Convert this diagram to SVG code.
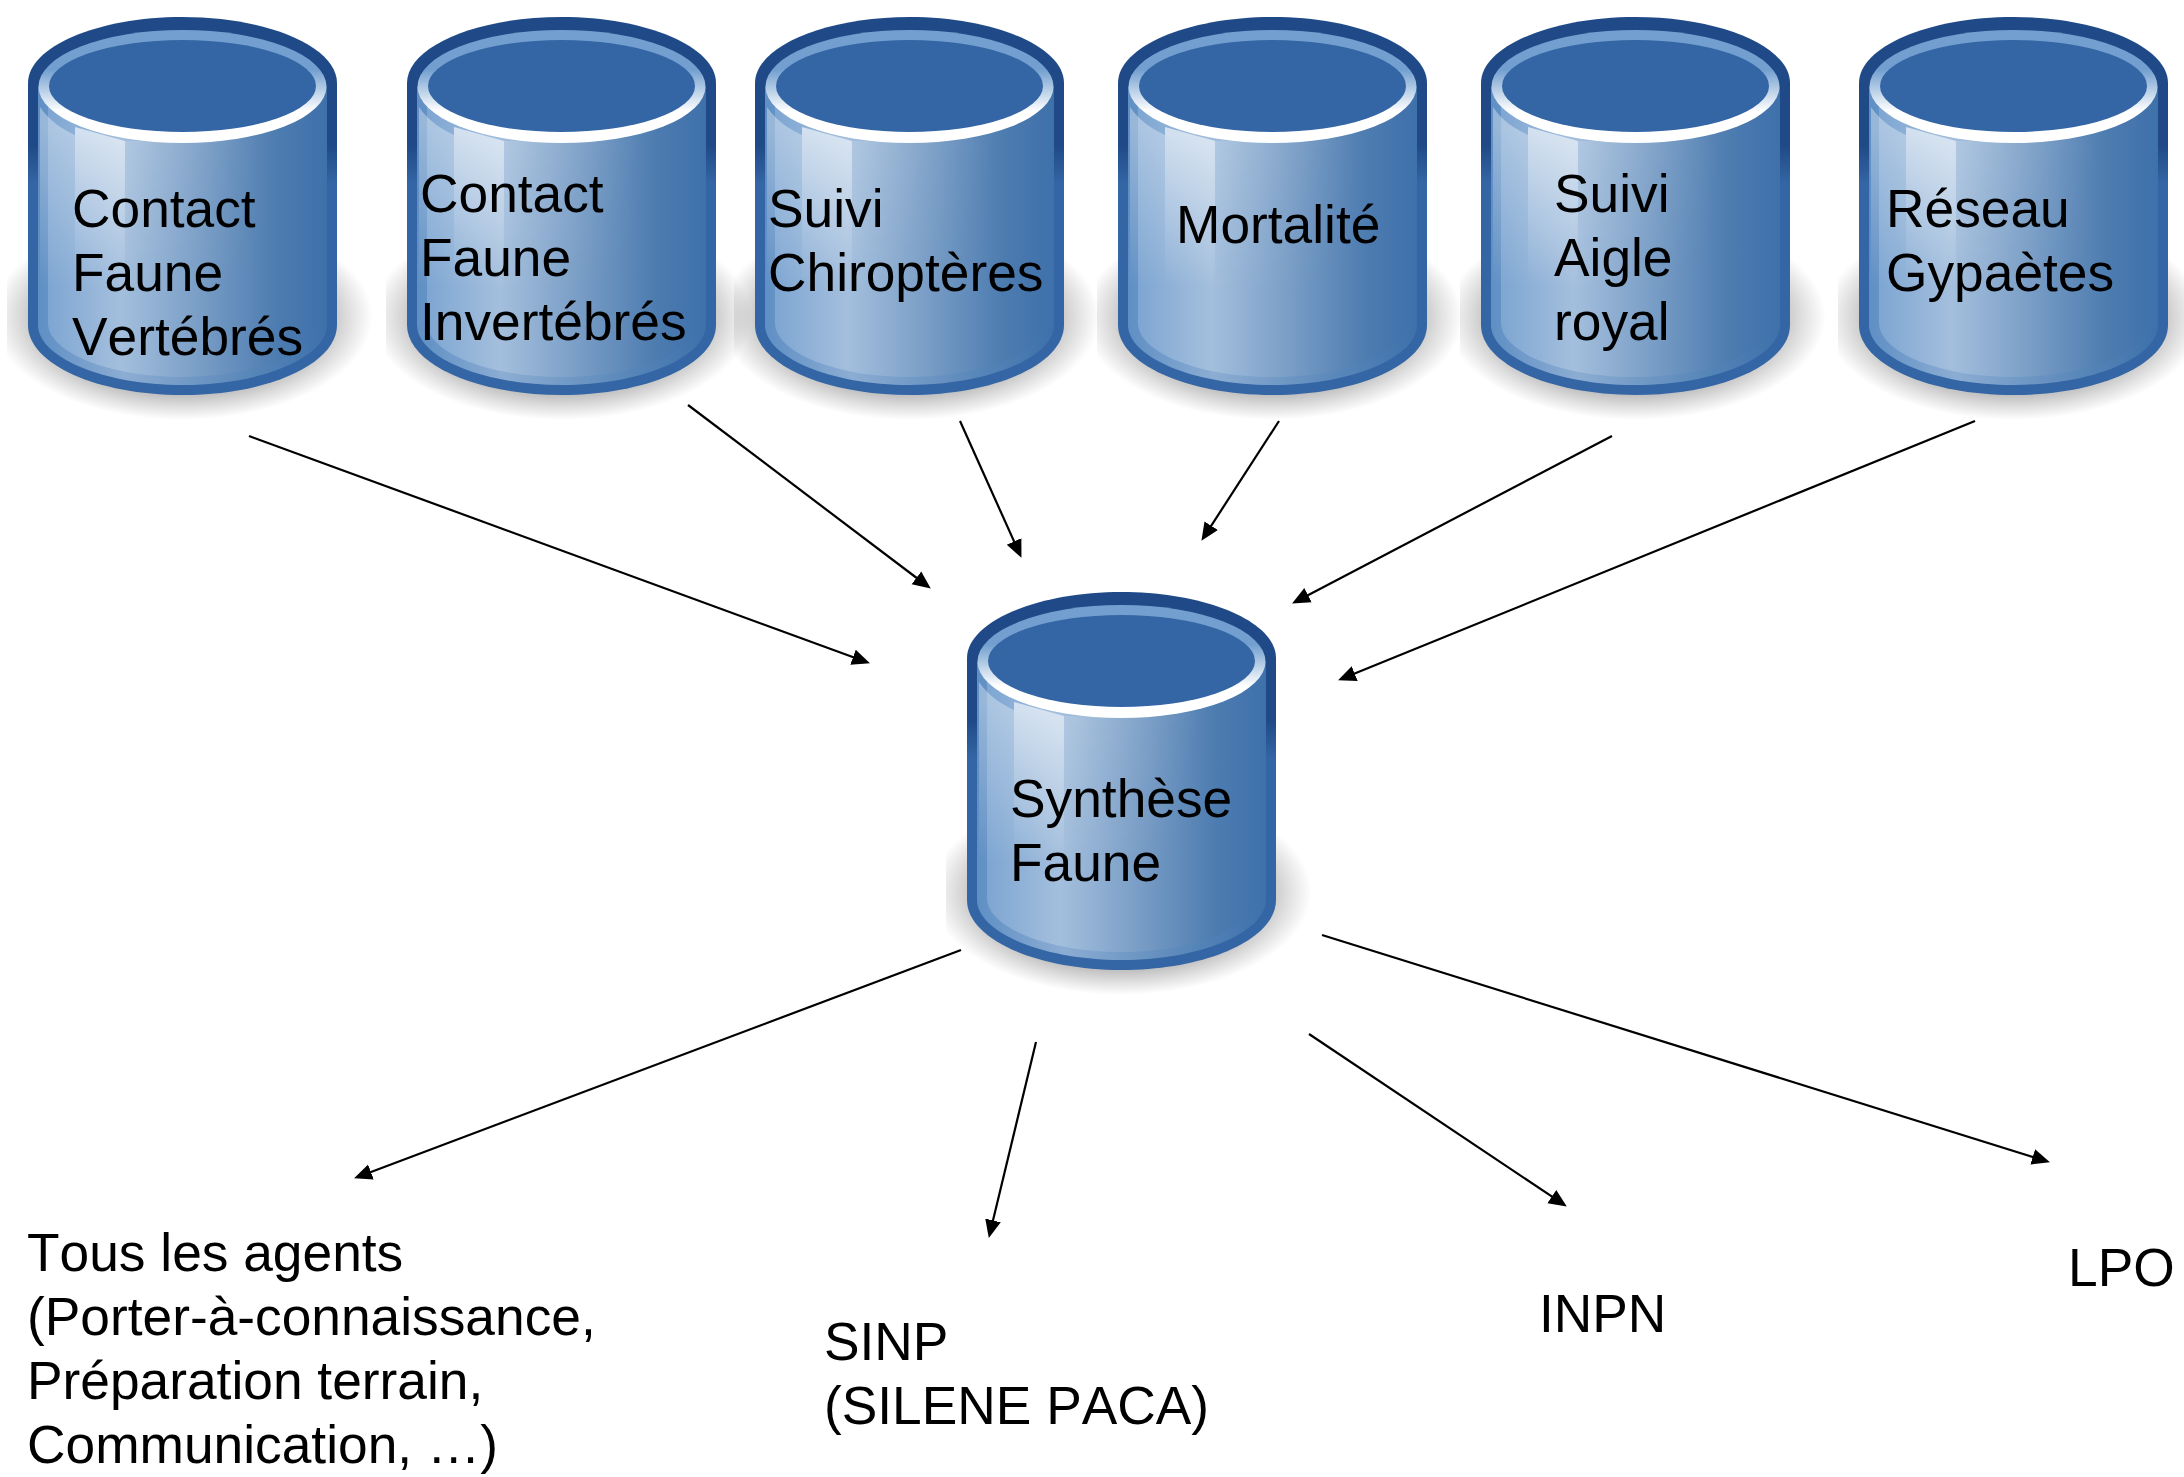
<svg xmlns="http://www.w3.org/2000/svg" xmlns:xlink="http://www.w3.org/1999/xlink" width="2184" height="1477" viewBox="0 0 2184 1477">
<style>
text{font-family:"Liberation Sans",Arial,sans-serif;font-size:53.3px;fill:#000;font-kerning:none}
.conn{fill:none;stroke:#000;stroke-width:2.2;marker-end:url(#arrow)}
</style>
<defs>
<marker id="arrow" markerUnits="userSpaceOnUse" markerWidth="20" markerHeight="18" refX="12" refY="9" orient="auto"><path d="M0,1 L18,9 L0,17 Z" fill="#000"/></marker>
<radialGradient id="shadow" cx="0.46" cy="0.5" r="0.5">
<stop offset="0.6" stop-color="#000" stop-opacity="0.42"/><stop offset="0.88" stop-color="#000" stop-opacity="0.12"/><stop offset="1" stop-color="#000" stop-opacity="0"/></radialGradient>
<linearGradient id="edge" gradientUnits="userSpaceOnUse" x1="0" y1="0" x2="0" y2="378">
<stop offset="0" stop-color="#204a87"/><stop offset="0.34" stop-color="#204a87"/><stop offset="0.44" stop-color="#3465a4"/><stop offset="1" stop-color="#3465a4"/></linearGradient>
<linearGradient id="margin" gradientUnits="userSpaceOnUse" x1="10" y1="0" x2="299" y2="0">
<stop offset="0" stop-color="#5f8fc4"/><stop offset="0.3" stop-color="#8cadd3"/><stop offset="0.75" stop-color="#5685b8"/><stop offset="1" stop-color="#3e70aa"/></linearGradient>
<linearGradient id="bodyG" gradientUnits="userSpaceOnUse" x1="20" y1="0" x2="289" y2="0">
<stop offset="0" stop-color="#7ea6d2"/><stop offset="0.27" stop-color="#a4bfdd"/><stop offset="0.55" stop-color="#7b9fc7"/><stop offset="0.85" stop-color="#4d7cb0"/><stop offset="1" stop-color="#4172ab"/></linearGradient>
<linearGradient id="gloss" gradientUnits="userSpaceOnUse" x1="0" y1="110" x2="0" y2="270">
<stop offset="0" stop-color="#fff" stop-opacity="0.62"/><stop offset="1" stop-color="#fff" stop-opacity="0"/></linearGradient>
<linearGradient id="gloss2" gradientUnits="userSpaceOnUse" x1="97" y1="0" x2="240" y2="0">
<stop offset="0" stop-color="#fff" stop-opacity="0.16"/><stop offset="1" stop-color="#fff" stop-opacity="0"/></linearGradient>
<linearGradient id="fadeV" gradientUnits="userSpaceOnUse" x1="0" y1="124" x2="0" y2="280">
<stop offset="0" stop-color="#fff"/><stop offset="1" stop-color="#000"/></linearGradient>
<mask id="fade" maskUnits="userSpaceOnUse" x="0" y="100" width="309" height="200"><rect x="0" y="100" width="309" height="200" fill="url(#fadeV)"/></mask>
<linearGradient id="rim" gradientUnits="userSpaceOnUse" x1="0" y1="13" x2="0" y2="126">
<stop offset="0" stop-color="#729fcf"/><stop offset="0.35" stop-color="#729fcf"/><stop offset="0.72" stop-color="#fff"/><stop offset="1" stop-color="#fff"/></linearGradient>
<g id="cyl">
<rect x="-21" y="197" width="381" height="206" fill="url(#shadow)"/>
<path d="M0,66 C0,30 69,0 154.5,0 C240,0 309,30 309,66 V308 C309,347 240,378 154.5,378 C69,378 0,347 0,308 Z" fill="url(#edge)"/>
<path d="M10,70 V308 C10,340 75,368 154.5,368 C234,368 299,340 299,308 V70 Z" fill="url(#margin)"/>
<path d="M20,90 V306 C20,335 80,360 154.5,360 C229,360 289,335 289,306 V90 Z" fill="url(#bodyG)"/>
<path d="M12,90 C22,105 35,112 47,118 V270 H12 Z" fill="url(#gloss)" opacity="0.55"/>
<path d="M47,110 L97,124 V270 H47 Z" fill="url(#gloss)"/>
<path d="M97,124 L250,120 V280 H97 Z" fill="url(#gloss2)" mask="url(#fade)"/>
<ellipse cx="154.5" cy="69.5" rx="144" ry="56.5" fill="url(#rim)"/>
<ellipse cx="154.5" cy="69" rx="133.5" ry="46" fill="#3465a4"/>
</g>
</defs>
<rect width="2184" height="1477" fill="#fff"/>
<g id="connectors">
<path class="conn" d="M249,436 L864.3,661.3"/>
<path class="conn" d="M688,405 L926,585"/>
<path class="conn" d="M960,421 L1019,552.4"/>
<path class="conn" d="M1279,421 L1204.7,535.8"/>
<path class="conn" d="M1612,436 L1297.4,600.7"/>
<path class="conn" d="M1975,421 L1343.6,678.1"/>
<path class="conn" d="M961,950 L359.7,1176.2"/>
<path class="conn" d="M1036,1042 L990.2,1232.1"/>
<path class="conn" d="M1309,1034 L1561.8,1203.2"/>
<path class="conn" d="M1322,935 L2044.2,1160.5"/>
</g>
<g id="node-contact-vertebres"><use xlink:href="#cyl" href="#cyl" x="28" y="17"/><text x="72" y="227">Contact</text><text x="72" y="291">Faune</text><text x="72" y="355">Vertébrés</text></g>
<g id="node-contact-invertebres"><use xlink:href="#cyl" href="#cyl" x="407" y="17"/><text x="420" y="212">Contact</text><text x="420" y="276">Faune</text><text x="420" y="340">Invertébrés</text></g>
<g id="node-chiropteres"><use xlink:href="#cyl" href="#cyl" x="755" y="17"/><text x="768" y="227">Suivi</text><text x="768" y="291">Chiroptères</text></g>
<g id="node-mortalite"><use xlink:href="#cyl" href="#cyl" x="1118" y="17"/><text x="1176" y="243">Mortalité</text></g>
<g id="node-aigle"><use xlink:href="#cyl" href="#cyl" x="1481" y="17"/><text x="1554" y="212">Suivi</text><text x="1554" y="276">Aigle</text><text x="1554" y="340">royal</text></g>
<g id="node-gypaetes"><use xlink:href="#cyl" href="#cyl" x="1859" y="17"/><text x="1886" y="227">Réseau</text><text x="1886" y="291">Gypaètes</text></g>
<g id="node-synthese"><use xlink:href="#cyl" href="#cyl" x="967" y="592"/><text x="1010" y="817">Synthèse</text><text x="1010" y="881">Faune</text></g>
<g id="node-agents"><text x="27" y="1271">Tous les agents</text><text x="27" y="1335">(Porter-à-connaissance,</text><text x="27" y="1399">Préparation terrain,</text><text x="27" y="1463">Communication, …)</text></g>
<g id="node-sinp"><text x="824" y="1360">SINP</text><text x="824" y="1424">(SILENE PACA)</text></g>
<g id="node-inpn"><text x="1539" y="1332">INPN</text></g>
<g id="node-lpo"><text x="2068" y="1286">LPO</text></g>
</svg>
